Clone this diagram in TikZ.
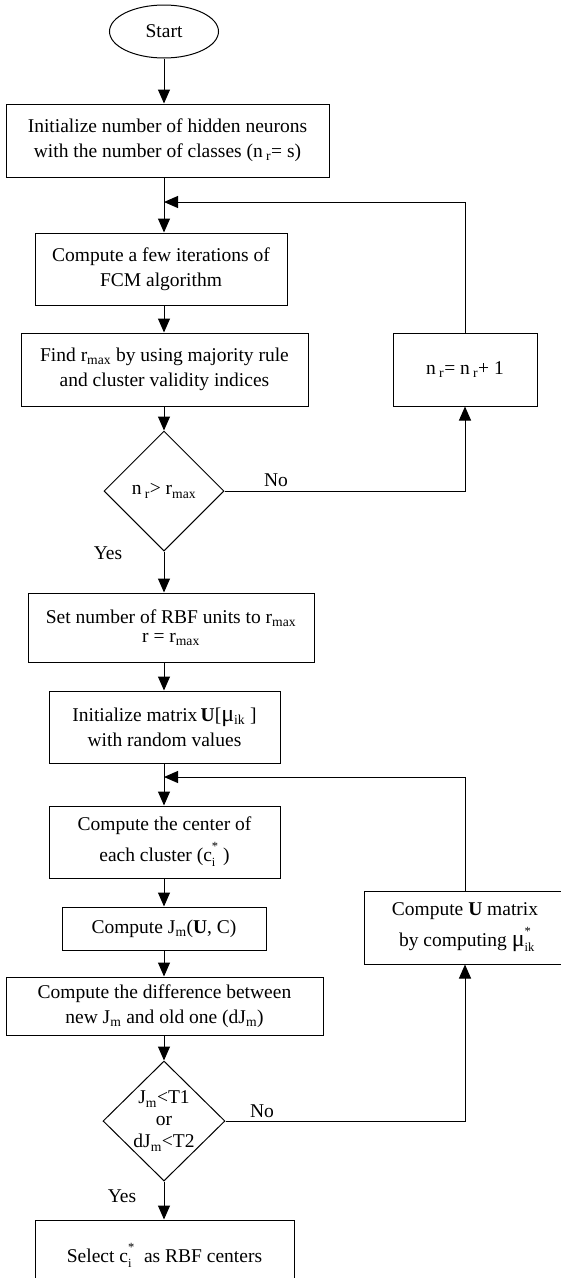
\documentclass[tikz,border=0pt]{standalone}
\usepackage{fontspec}
\setmainfont{Liberation Serif}
\usepackage{tikz}
\usetikzlibrary{shapes.geometric,arrows.meta}

% sub- and superscript stacked on one base
\newcommand{\smallidx}{\fontsize{12.5}{12.5}\selectfont}
\newcommand{\idx}[2]{\rlap{\raisebox{-0.55ex}{\smallidx #1}}\raisebox{1.25ex}{\smallidx #2}}
\newcommand{\mubig}{{\fontsize{24}{24}\selectfont μ}}

\tikzset{
  box/.style={draw, line width=1pt, align=center, inner sep=0pt},
  decide/.style={draw, diamond, line width=1pt, inner sep=0pt, aspect=1},
  arr/.style={line width=1pt, -{Triangle[length=14pt,width=12pt]}},
  line/.style={line width=1pt}
}

\begin{document}
\begin{tikzpicture}[x=1pt, y=-1pt, font=\fontsize{19.5}{25}\selectfont]
        \useasboundingbox (0,0) rectangle (561,1278);
        \coordinate (axis) at (164,0);

        \node [draw, ellipse, line width=1pt, minimum width=109pt, minimum height=53pt, inner sep=0pt]
          (start) at (164,31.5) {Start};

        \node [box, minimum width=323pt, minimum height=73pt] (init) at (167.5,140.5)
          {Initialize number of hidden neurons\\with the number of classes (n\,\textsubscript{r}= s)};

        \node [box, minimum width=252pt, minimum height=72pt] (fcm) at (161,269)
          {Compute a few iterations of\\FCM algorithm};

        \node [box, minimum width=287pt, minimum height=73pt] (findr) at (164.5,369.5)
          {Find r\textsubscript{max} by using majority rule\\and cluster validity indices};

        \node [box, minimum width=144pt, minimum height=73pt] (incr) at (465,369.5)
          {n\,\textsubscript{r}= n\,\textsubscript{r}+ 1};

        \node [decide, minimum width=120pt, minimum height=120pt,
          label={center:{n\,\textsubscript{r}> r\textsubscript{max}}}] (dec1) at (164,491) {};

        \node [box, minimum width=286pt, minimum height=69pt] (setr) at (171,627.5)
          {Set number of RBF units to r\textsubscript{max}\\[-6pt]r = r\textsubscript{max}};

        \node [box, minimum width=231pt, minimum height=72pt] (initu) at (164.5,727)
          {Initialize matrix\,\textbf{U}[\mubig\textsubscript{ik} ]\\with random values};

        \node [box, minimum width=231pt, minimum height=72pt] (centre) at (164.5,842)
          {Compute the center of\\[6pt]each cluster (c\idx{i}{*}\ )};

        \node [box, minimum width=204pt, minimum height=43pt] (costj) at (164,928.5)
          {Compute J\textsubscript{m}(\textbf{U}, C)};

        \node [box, minimum width=317pt, minimum height=58pt] (diff) at (164.5,1006)
          {Compute the difference between\\new J\textsubscript{m} and old one (dJ\textsubscript{m})};

        \node [decide, minimum width=122pt, minimum height=120pt,
          label={[align=center]center:{J\textsubscript{m}<T1\\[-3pt]or\\[-3pt]dJ\textsubscript{m}<T2}}] (dec2) at (164,1121) {};

        \node [box, minimum width=202pt, minimum height=73pt] (updu) at (465,927.5)
          {Compute \textbf{U} matrix\\[6pt]by computing \mubig\idx{ik}{*}};

        \node [box, minimum width=259pt, minimum height=70pt] (select) at (164.5,1255)
          {Select c\idx{i}{*}\ \ as RBF centers};

        % branch labels
        \node (no1) at (276,480) {No};
        \node (yes1) at (108,553) {Yes};
        \node (no2) at (262,1111) {No};
        \node (yes2) at (122,1196) {Yes};

        % main flow
        \draw [arr] (start.south) -- (axis |- init.north);
        \draw [arr] (axis |- init.south) -- (axis |- fcm.north);
        \draw [arr] (axis |- fcm.south) -- (axis |- findr.north);
        \draw [arr] (axis |- findr.south) -- (dec1.north);
        \draw [arr] (dec1.south) -- (axis |- setr.north);
        \draw [arr] (axis |- setr.south) -- (axis |- initu.north);
        \draw [arr] (axis |- initu.south) -- (axis |- centre.north);
        \draw [arr] (axis |- centre.south) -- (axis |- costj.north);
        \draw [arr] (axis |- costj.south) -- (axis |- diff.north);
        \draw [arr] (axis |- diff.south) -- (dec2.north);
        \draw [arr] (dec2.south) -- (axis |- select.north);

        % loops back
        \coordinate (join1) at (164,202);
        \coordinate (join2) at (164,777);
        \draw [arr] (dec1.east) -| (incr.south);
        \draw [arr] (incr.north) |- (join1);
        \draw [arr] (dec2.east) -| (updu.south);
        \draw [arr] (updu.north) |- (join2);
    \end{tikzpicture}
\end{document}
